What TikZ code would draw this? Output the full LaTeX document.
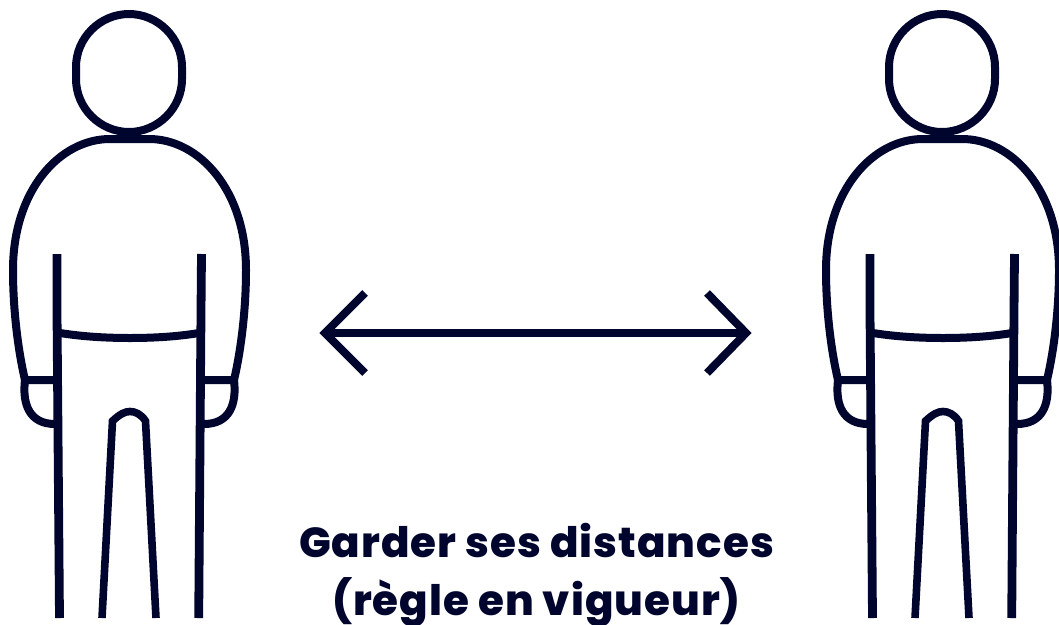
\documentclass[tikz,border=0pt]{standalone}
\usepackage{fontspec}
\setmainfont{Poppins}[BoldFont={Poppins ExtraBold},LetterSpace=2.4]
\definecolor{ink}{HTML}{00052E}
\tikzset{
  figline/.style={draw=ink,line width=8pt,line cap=butt,line join=round},
  sideline/.style={figline,line width=8.8pt},
  person/.pic={
    \draw[figline] (129,14) .. controls (100,14) and (76,38) .. (76,67) -- (76,79)
       .. controls (76,108) and (100,132) .. (129,132)
       .. controls (158,132) and (182,108) .. (182,79) -- (182,67)
       .. controls (182,38) and (158,14) .. (129,14) -- cycle;
    \draw[figline] (25,380) .. controls (18,350) and (13,310) .. (13,270)
       .. controls (13,190) and (60,139) .. (110,139) -- (149,139)
       .. controls (199,139) and (246,190) .. (246,270)
       .. controls (246,310) and (241,350) .. (234,380);
    \draw[sideline] (57,254) -- (57,312) -- (59.5,618);
    \draw[sideline] (201.5,254) -- (201,312) -- (198.7,618);
    \draw[figline] (60,333) .. controls (85,337) and (110,338) .. (130,338)
       .. controls (150,338) and (175,337) .. (199,333);
    \draw[figline,line join=miter] (58,380) -- (25,380) .. controls (22,405) and (30,424) .. (55,424);
    \draw[figline,line join=miter] (200,380) -- (234,380) .. controls (237,405) and (229,424) .. (204,424);
    \draw[figline,line width=7.6pt,line join=miter] (102,618) -- (112.5,421) .. controls (120,414) and (125,411.5) .. (130,411.5)
       .. controls (135,411.5) and (141,414) .. (145.5,421) -- (156,618);
  }
}
\begin{document}
\begin{tikzpicture}[x=1pt,y=-1pt]
\useasboundingbox (0,0) rectangle (1059,624);
\pic at (0,0) {person};
\pic at (813,0) {person};
\coordinate (tipL) at (325,333);
\coordinate (tipR) at (746,333);
\coordinate (ltop) at (365,293);
\coordinate (lbot) at (365,373);
\coordinate (rtop) at (707,293);
\coordinate (rbot) at (707,373);
\draw[figline,line join=miter] (tipL) -- (tipR);
\draw[figline,line join=miter] (ltop) -- (tipL) -- (lbot);
\draw[figline,line join=miter] (rtop) -- (tipR) -- (rbot);
\node[text=ink,font=\bfseries\fontsize{42}{58.5}\selectfont,align=center,anchor=center,inner sep=0pt] (caption) at (536.5,575) {Garder ses distances\\(règle en vigueur)};
\end{tikzpicture}
\end{document}
